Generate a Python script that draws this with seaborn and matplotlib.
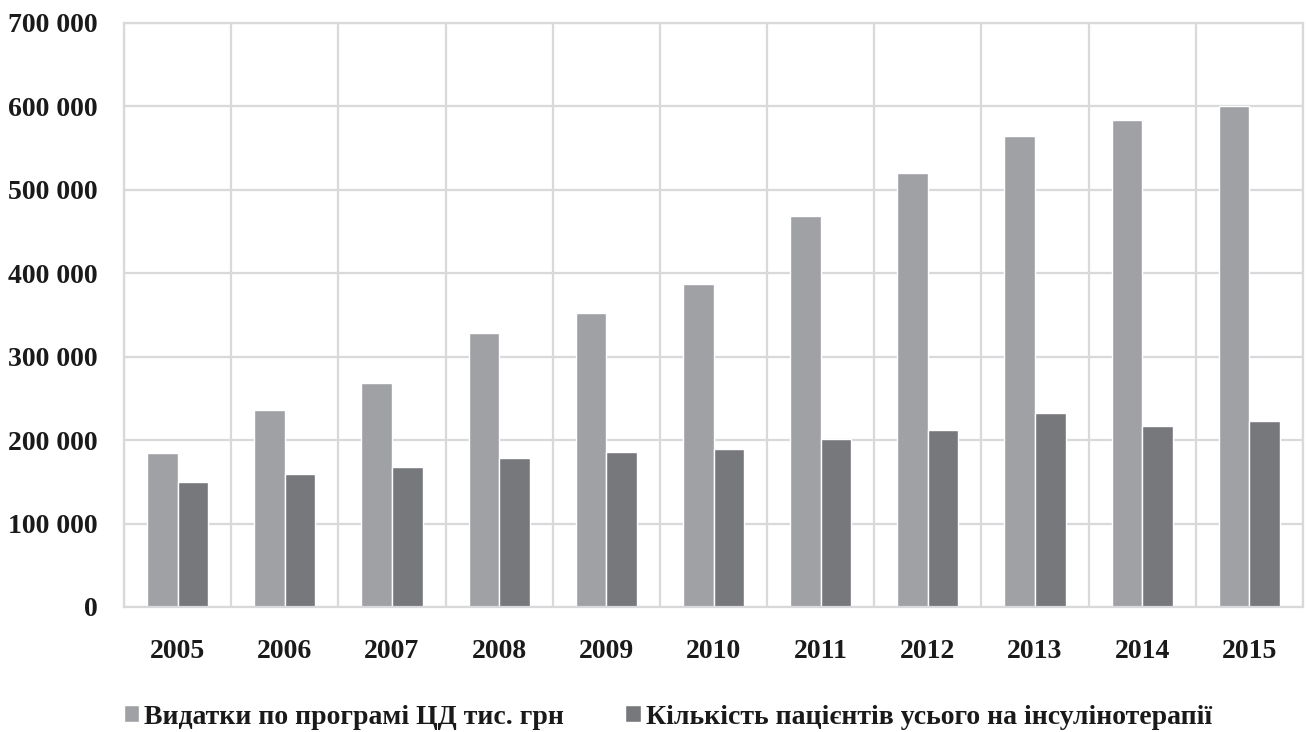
import matplotlib
matplotlib.use("Agg")
import matplotlib.pyplot as plt
import matplotlib.ticker as mticker
import seaborn as sns
import pandas as pd
import numpy as np

years = ["2005", "2006", "2007", "2008", "2009", "2010",
         "2011", "2012", "2013", "2014", "2015"]
spending = [184000, 236000, 269000, 328000, 352000, 387000,
            469000, 520000, 565000, 584000, 600000]
patients = [150000, 160000, 168000, 178000, 186000, 189000,
            201000, 212000, 232000, 217000, 223000]
series_names = ["Видатки по програмі ЦД тис. грн",
                "Кількість пацієнтів усього на інсулінотерапії"]
y_ticks = [0, 100000, 200000, 300000, 400000, 500000, 600000, 700000]

df = pd.DataFrame({
    "year": years * 2,
    "value": spending + patients,
    "series": [series_names[0]] * len(years) + [series_names[1]] * len(years),
})

sns.set_theme(style="white")
plt.rcParams["font.family"] = ["Liberation Serif", "DejaVu Serif"]
plt.rcParams["font.weight"] = "bold"

fig = plt.figure(figsize=(13.06, 7.32), dpi=100)
ax = fig.add_axes([124 / 1306, 1 - 607 / 732, (1303 - 124) / 1306, (607 - 23) / 732])

palette = {series_names[0]: "#a0a1a5", series_names[1]: "#77787c"}
sns.barplot(data=df, x="year", y="value", hue="series", order=years,
            hue_order=series_names, palette=palette, width=0.57,
            saturation=1, ax=ax, legend=True)

grid_color = "#d9d9dc"
ax.set_xlim(-0.5, len(years) - 0.5)
ax.set_ylim(0, 700000)
ax.set_yticks(y_ticks)
ax.yaxis.set_major_formatter(mticker.FuncFormatter(
    lambda v, p: f"{int(v):,}".replace(",", " ")))
ax.xaxis.set_minor_locator(mticker.FixedLocator(np.arange(-0.5, len(years), 1.0)))
ax.grid(axis="y", which="major", color=grid_color, linewidth=1.6)
ax.grid(axis="x", which="minor", color=grid_color, linewidth=1.6)
ax.set_axisbelow(True)
for s in ax.spines.values():
    s.set_color(grid_color)
    s.set_linewidth(1.6)

text_color = "#1a1a1a"
ax.tick_params(axis="both", which="both", length=0, labelsize=20,
               colors=text_color)
ax.tick_params(axis="y", pad=19)
ax.tick_params(axis="x", pad=23)
for lbl in ax.get_xticklabels() + ax.get_yticklabels():
    lbl.set_fontweight("bold")
ax.set_xlabel("")
ax.set_ylabel("")

handles, labels = ax.get_legend_handles_labels()
ax.get_legend().remove()
leg = fig.legend(handles, labels, loc="center", bbox_to_anchor=(668 / 1306, 1 - 717 / 732),
                 ncol=2, frameon=False, fontsize=20, handlelength=0.55,
                 handleheight=0.55, handletextpad=0.2, columnspacing=2.2,
                 borderaxespad=0, borderpad=0)
for t in leg.get_texts():
    t.set_fontweight("bold")
    t.set_color(text_color)

fig.savefig("out.png", dpi=100, facecolor="white")
